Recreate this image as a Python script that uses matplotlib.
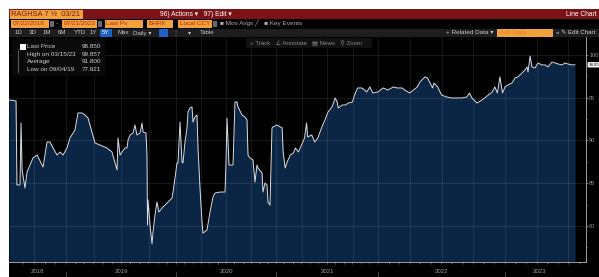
import numpy as np
import matplotlib
matplotlib.use("Agg")
import matplotlib.pyplot as plt
from matplotlib.patches import Rectangle
from matplotlib.transforms import blended_transform_factory

W, H = 599, 277
plt.rcParams["font.family"] = ["Liberation Sans", "DejaVu Sans"]

# price history (decimal year, price)
years = [2018.555, 2018.610, 2018.617, 2018.641, 2018.649, 2018.657, 2018.680, 2018.696,
         2018.742, 2018.774, 2018.821, 2018.852, 2018.875, 2018.899, 2018.930, 2018.953,
         2018.977, 2019.009, 2019.036, 2019.082, 2019.109, 2019.145, 2019.173, 2019.200,
         2019.236, 2019.264, 2019.309, 2019.373, 2019.418, 2019.464, 2019.473, 2019.491,
         2019.536, 2019.555, 2019.564, 2019.582, 2019.609, 2019.627, 2019.645, 2019.673,
         2019.691, 2019.700, 2019.727, 2019.736, 2019.741, 2019.745, 2019.764, 2019.782,
         2019.791, 2019.809, 2019.827, 2019.845, 2019.873, 2019.900, 2019.927, 2019.964,
         2019.973, 2019.991, 2020.01, 2020.02, 2020.04, 2020.06, 2020.07, 2020.09,
         2020.11, 2020.12, 2020.14, 2020.16, 2020.17, 2020.19, 2020.21, 2020.22,
         2020.24, 2020.26, 2020.27, 2020.31, 2020.34, 2020.37, 2020.39, 2020.44,
         2020.49, 2020.50, 2020.51, 2020.53, 2020.57, 2020.59, 2020.61, 2020.62,
         2020.66, 2020.69, 2020.71, 2020.72, 2020.74, 2020.77, 2020.79, 2020.81,
         2020.82, 2020.86, 2020.87, 2020.89, 2020.91, 2020.92, 2020.94, 2020.96,
         2020.97, 2021.01, 2021.06, 2021.07, 2021.09, 2021.11, 2021.14, 2021.17,
         2021.19, 2021.22, 2021.25, 2021.28, 2021.30, 2021.31, 2021.35, 2021.38,
         2021.41, 2021.45, 2021.48, 2021.51, 2021.55, 2021.58, 2021.60, 2021.61,
         2021.65, 2021.68, 2021.71, 2021.75, 2021.77, 2021.80, 2021.84, 2021.87,
         2021.89, 2021.92, 2021.95, 2022.00, 2022.04, 2022.08, 2022.12, 2022.15,
         2022.19, 2022.21, 2022.25, 2022.28, 2022.31, 2022.33, 2022.37, 2022.39,
         2022.43, 2022.44, 2022.47, 2022.50, 2022.54, 2022.58, 2022.62, 2022.66,
         2022.70, 2022.72, 2022.74, 2022.78, 2022.82, 2022.84, 2022.87, 2022.90,
         2022.92, 2022.94, 2022.96, 2022.98, 2023.000, 2023.024, 2023.055, 2023.079,
         2023.103, 2023.134, 2023.158, 2023.174, 2023.182, 2023.198, 2023.213, 2023.237,
         2023.261, 2023.292, 2023.316, 2023.340, 2023.371, 2023.395, 2023.419, 2023.450,
         2023.474, 2023.497, 2023.529, 2023.553]
prices = [94.74, 94.62, 84.80, 84.80, 92.05, 86.55, 84.44, 86.31,
          87.95, 88.30, 86.90, 89.82, 89.82, 89.12, 88.30, 88.65,
          88.30, 89.12, 90.29, 91.23, 93.22, 93.22, 92.98, 92.63,
          91.00, 89.71, 89.47, 89.12, 88.65, 86.55, 90.29, 88.30,
          89.12, 89.12, 90.05, 90.64, 90.87, 91.81, 90.64, 90.87,
          92.05, 91.00, 90.87, 88.30, 80.11, 83.04, 80.11, 77.92,
          79.29, 81.28, 82.80, 81.63, 82.10, 82.45, 82.80, 83.27,
          83.97, 85.61, 87.37, 87.37, 92.16, 87.48, 87.37, 89.82,
          91.46, 93.33, 93.80, 93.92, 92.16, 92.75, 92.98, 89.12,
          84.44, 80.46, 79.17, 79.52, 81.63, 83.39, 83.85, 83.97,
          83.97, 87.48, 92.63, 87.13, 87.13, 94.50, 94.50, 93.92,
          92.98, 92.75, 92.39, 88.30, 87.95, 87.72, 85.14, 87.13,
          86.78, 86.20, 83.97, 85.02, 84.79, 82.80, 82.45, 91.46,
          91.58, 91.81, 91.46, 88.65, 86.78, 87.48, 88.30, 88.53,
          89.12, 88.65, 89.47, 90.29, 92.05, 90.41, 90.64, 89.82,
          90.29, 91.58, 92.39, 93.33, 93.92, 94.97, 94.50, 93.80,
          94.15, 94.15, 94.38, 94.50, 95.32, 96.14, 96.14, 95.90,
          95.67, 96.26, 95.55, 95.67, 96.14, 95.90, 96.26, 96.14,
          96.14, 95.90, 95.55, 95.90, 96.26, 96.84, 97.43, 97.31,
          96.14, 96.72, 96.26, 95.32, 95.09, 94.97, 94.97, 94.97,
          95.09, 95.55, 94.97, 94.38, 94.74, 94.97, 95.32, 95.67,
          96.26, 95.55, 97.43, 95.55, 96.26, 96.49, 96.72, 97.31,
          97.43, 97.89, 98.24, 98.60, 98.01, 99.86, 98.60, 98.48,
          99.06, 98.83, 98.83, 98.60, 99.18, 99.06, 98.95, 98.83,
          99.06, 98.95, 98.83, 98.85]

year_labels = ["2018", "2019", "2020", "2021", "2022", "2023"]
y_ticks = [80, 85, 90, 95, 100]
legend_rows = [("Last Price", "98.850"), ("High on 03/15/23", "99.857"),
               ("Average", "91.800"), ("Low on 09/04/19", "77.921")]
last_px = "98.85"

# Bloomberg spaces the x axis by trading sessions, so each year gets its own width
seg_years = [2017.555, 2018.555, 2019, 2020, 2021, 2022, 2023, 2023.553, 2024.553]
seg_px = [-119, 9, 66, 176, 276, 378, 505, 575, 702]


def fwd(x):
    return np.interp(x, seg_years, seg_px)


def inv(p):
    return np.interp(p, seg_px, seg_years)


def fx(px):
    return px / W


def fy(py):
    return 1 - py / H


fig = plt.figure(figsize=(W / 100, H / 100), dpi=100)
fig.patch.set_facecolor("white")

# terminal panel + header bars
fig.patches.append(Rectangle((fx(9), 0), 1 - fx(9), fy(9), transform=fig.transFigure,
                             facecolor="black", zorder=-2))
fig.patches.append(Rectangle((fx(9), fy(19)), 1, fy(9) - fy(19), transform=fig.transFigure,
                             facecolor="#7a1218", zorder=-1))
fig.patches.append(Rectangle((fx(9), fy(37)), 1, fy(29) - fy(37), transform=fig.transFigure,
                             facecolor="#1e1e1e", zorder=-1))


def box(x0, x1, y0, y1, color):
    fig.patches.append(Rectangle((fx(x0), fy(y1)), fx(x1) - fx(x0), fy(y0) - fy(y1),
                                 transform=fig.transFigure, facecolor=color, zorder=2))


def txt(x, y, s, color="#c8c8c8", size=4.6, **kw):
    fig.text(fx(x), fy(y), s, color=color, fontsize=size, va="center", zorder=3, **kw)


# row 1
box(10, 83, 10.5, 18.5, "#f2a23c")
txt(11, 14.5, "RAGHSA 7 \u00bd  03/21", color="#7a1218", size=5.4)
txt(160, 14.5, "96) Actions \u25be   97) Edit \u25be", color="white", size=4.8)
txt(597, 14.5, "Line Chart", color="white", size=4.8, ha="right")

# row 2
for x0, x1, s in [(11, 49, "07/22/2018"), (62, 97, "07/21/2023"), (105, 143, "Last Px"),
                  (147, 173, "BHRK"), (178, 212, "Local CCY")]:
    box(x0, x1, 20, 27.5, "#f2a23c")
    txt(x0 + 1.5, 23.8, s, color="#b0281c", size=4.6)
box(50, 54, 21, 27, "#6a6a6a")
box(98, 102, 21, 27, "#6a6a6a")
txt(56, 23.8, "-", size=4.6)
box(213, 217, 21, 27, "#6a6a6a")
txt(220, 23.8, "\u25a0 Mov Avgs \u2571   \u25a0 Key Events", color="#b0b0b0", size=4.6)

# row 3
for x, s in [(15, "1D"), (29, "3D"), (43, "1M"), (58, "6M"), (74, "YTD"), (90, "1Y"),
             (117, "Max"), (133, "Daily \u25be"), (188, "\u25be"), (200, "Table")]:
    txt(x, 33, s, size=4.4)
box(100, 112, 29.5, 36.5, "#1f5fc8")
txt(102, 33, "5Y", color="white", size=4.4)
box(159, 168, 29.5, 36.5, "#1f5fc8")
txt(172, 33, "\u22ee", size=4.4)
txt(446, 33, "+ Related Data \u25be", size=4.6)
box(497, 553, 29.5, 36.5, "#f2a23c")
txt(500, 33, "Add Data", color="#e07a20", size=4.6)
txt(556, 33, "\u00ab \u270e Edit Chart", color="#d8d8d8", size=4.4)

# chart area
ax = fig.add_axes([fx(9), fy(262), fx(586) - fx(9), fy(37) - fy(262)])
ax.set_zorder(1)
ax.set_facecolor("black")
ax.set_xscale("function", functions=(fwd, inv))
ax.set_xlim(2018.555, inv(586))
ax.set_ylim(75.79, 102.1)

ax.fill_between(years, prices, 75.79, color="#0b2545", lw=0, zorder=1)
ax.plot(years, prices, color="#d9dee6", lw=0.7, zorder=3)

for q in np.arange(2018.75, 2023.6, 0.25):
    ax.axvline(q, color="white", alpha=0.12, lw=0.5, zorder=2)
for v in y_ticks:
    ax.axhline(v, color="white", alpha=0.14, lw=0.5, zorder=2)

for s in ["left", "top"]:
    ax.spines[s].set_visible(False)
for s in ["right", "bottom"]:
    ax.spines[s].set_color("#b8b8b8")
    ax.spines[s].set_linewidth(0.6)

ax.yaxis.tick_right()
ax.set_yticks(y_ticks)
ax.set_yticks(np.arange(77.5, 101, 2.5), minor=True)
ax.tick_params(axis="y", which="both", colors="#9a9a9a", labelsize=3.9, length=1.5,
               width=0.5, pad=0.8)
ax.tick_params(axis="y", which="minor", length=1.0)

ax.set_xticks([2019, 2020, 2021, 2022, 2023])
ax.set_xticks(np.arange(2018 + 8 / 12, 2023.6, 1 / 12), minor=True)
ax.tick_params(axis="x", which="both", colors="#8a8a8a", length=1.5, width=0.4,
               labelbottom=False)

tr = blended_transform_factory(ax.transData, ax.transAxes)
edges = [2018.555, 2019, 2020, 2021, 2022, 2023, 2023.553]
for i, lab in enumerate(year_labels):
    mid = inv((fwd(edges[i]) + fwd(edges[i + 1])) / 2)
    ax.text(mid, -0.042, lab, transform=tr, ha="center", va="center",
            color="#9a9a9a", fontsize=4.4, clip_on=False)
ax.vlines([2019, 2020, 2021, 2022, 2023], -0.045, -0.075, transform=tr,
          color="#6a6a6a", lw=0.5, clip_on=False)

# last price tag
ax.text(1.004, 98.85, last_px, transform=blended_transform_factory(ax.transAxes, ax.transData),
        ha="left", va="center", fontsize=3.2, color="black",
        bbox=dict(boxstyle="round,pad=0.15", fc="white", ec="none"), clip_on=False)

# toolbar strip
box(246, 372, 38.5, 47.5, "#111111")
txt(250, 43, "+ Track   \u2220 Annotate   \u25a4 News   \u26b2 Zoom", color="#8c8c8c", size=4.4)

# legend panel
box(12, 105, 39, 76, "#0a0a0a")
for i, (name, val) in enumerate(legend_rows):
    y = 46.5 + i * 7.6
    txt(27, y, name, color="#d0d0d0", size=4.6)
    txt(101, y, val, color="#d0d0d0", size=4.6, ha="right")
box(20, 25.5, 44, 49.5, "white")
fig.lines.append(plt.Line2D([fx(18), fx(18)], [fy(50), fy(72)], transform=fig.transFigure,
                            color="#6a6a6a", lw=0.6, zorder=3))

fig.savefig("out.png", dpi=100, facecolor=fig.get_facecolor())
